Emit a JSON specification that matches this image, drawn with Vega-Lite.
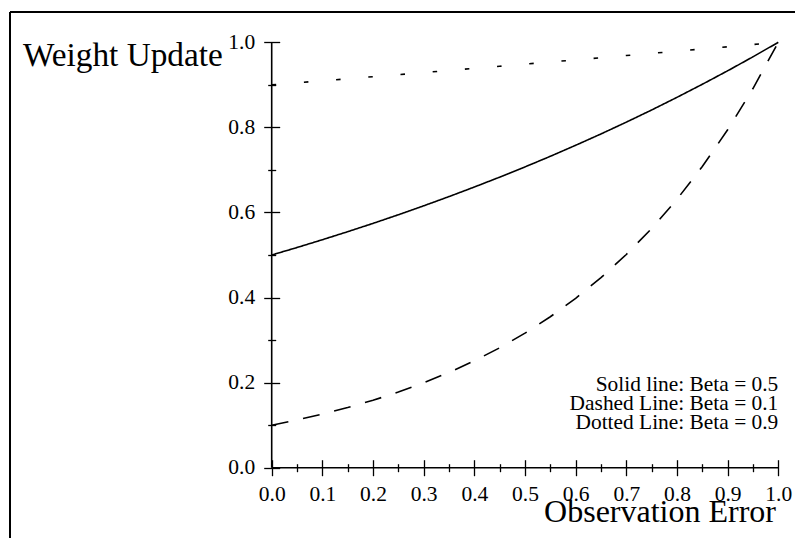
{
  "$schema": "https://vega.github.io/schema/vega-lite/v6.json",
  "width": 785,
  "height": 526,
  "autosize": {"type": "none"},
  "padding": {"left": 10, "top": 12, "right": 0, "bottom": 0},
  "background": "white",
  "config": {
    "view": {"stroke": null},
    "axis": {"grid": false, "domain": false, "tickColor": "black", "labelColor": "black", "titleColor": "black", "labelFont": "Liberation Serif", "titleFont": "Liberation Serif", "titleFontWeight": "normal"}
  },
  "resolve": {"axis": {"x": "independent", "y": "independent"}},
  "layer": [
    {
      "data": {"values": [
        {"e": 0, "w": 0.5, "s": "Solid"}, {"e": 0.05, "w": 0.5176, "s": "Solid"}, {"e": 0.1, "w": 0.5359, "s": "Solid"}, {"e": 0.15, "w": 0.5548, "s": "Solid"}, {"e": 0.2, "w": 0.5743, "s": "Solid"}, {"e": 0.25, "w": 0.5946, "s": "Solid"}, {"e": 0.3, "w": 0.6156, "s": "Solid"}, {"e": 0.35, "w": 0.6373, "s": "Solid"}, {"e": 0.4, "w": 0.6598, "s": "Solid"}, {"e": 0.45, "w": 0.683, "s": "Solid"}, {"e": 0.5, "w": 0.7071, "s": "Solid"}, {"e": 0.55, "w": 0.732, "s": "Solid"}, {"e": 0.6, "w": 0.7579, "s": "Solid"}, {"e": 0.65, "w": 0.7846, "s": "Solid"}, {"e": 0.7, "w": 0.8123, "s": "Solid"}, {"e": 0.75, "w": 0.8409, "s": "Solid"}, {"e": 0.8, "w": 0.8706, "s": "Solid"}, {"e": 0.85, "w": 0.9013, "s": "Solid"}, {"e": 0.9, "w": 0.933, "s": "Solid"}, {"e": 0.95, "w": 0.9659, "s": "Solid"}, {"e": 1, "w": 1, "s": "Solid"},
        {"e": 0, "w": 0.1, "s": "Dashed"}, {"e": 0.05, "w": 0.1122, "s": "Dashed"}, {"e": 0.1, "w": 0.1259, "s": "Dashed"}, {"e": 0.15, "w": 0.1413, "s": "Dashed"}, {"e": 0.2, "w": 0.1585, "s": "Dashed"}, {"e": 0.25, "w": 0.1778, "s": "Dashed"}, {"e": 0.3, "w": 0.1995, "s": "Dashed"}, {"e": 0.35, "w": 0.2239, "s": "Dashed"}, {"e": 0.4, "w": 0.2512, "s": "Dashed"}, {"e": 0.45, "w": 0.2818, "s": "Dashed"}, {"e": 0.5, "w": 0.3162, "s": "Dashed"}, {"e": 0.55, "w": 0.3548, "s": "Dashed"}, {"e": 0.6, "w": 0.3981, "s": "Dashed"}, {"e": 0.65, "w": 0.4467, "s": "Dashed"}, {"e": 0.7, "w": 0.5012, "s": "Dashed"}, {"e": 0.75, "w": 0.5623, "s": "Dashed"}, {"e": 0.8, "w": 0.631, "s": "Dashed"}, {"e": 0.85, "w": 0.7079, "s": "Dashed"}, {"e": 0.9, "w": 0.7943, "s": "Dashed"}, {"e": 0.95, "w": 0.8913, "s": "Dashed"}, {"e": 1, "w": 1, "s": "Dashed"},
        {"e": 0, "w": 0.9, "s": "Dotted"}, {"e": 0.05, "w": 0.9048, "s": "Dotted"}, {"e": 0.1, "w": 0.9095, "s": "Dotted"}, {"e": 0.15, "w": 0.9143, "s": "Dotted"}, {"e": 0.2, "w": 0.9192, "s": "Dotted"}, {"e": 0.25, "w": 0.924, "s": "Dotted"}, {"e": 0.3, "w": 0.9289, "s": "Dotted"}, {"e": 0.35, "w": 0.9338, "s": "Dotted"}, {"e": 0.4, "w": 0.9387, "s": "Dotted"}, {"e": 0.45, "w": 0.9437, "s": "Dotted"}, {"e": 0.5, "w": 0.9487, "s": "Dotted"}, {"e": 0.55, "w": 0.9537, "s": "Dotted"}, {"e": 0.6, "w": 0.9587, "s": "Dotted"}, {"e": 0.65, "w": 0.9638, "s": "Dotted"}, {"e": 0.7, "w": 0.9689, "s": "Dotted"}, {"e": 0.75, "w": 0.974, "s": "Dotted"}, {"e": 0.8, "w": 0.9791, "s": "Dotted"}, {"e": 0.85, "w": 0.9843, "s": "Dotted"}, {"e": 0.9, "w": 0.9895, "s": "Dotted"}, {"e": 0.95, "w": 0.9947, "s": "Dotted"}, {"e": 1, "w": 1, "s": "Dotted"}
      ]},
      "mark": {"type": "line", "color": "black", "strokeCap": "butt", "clip": false},
      "encoding": {
        "x": {"field": "e", "type": "quantitative",
          "scale": {"domain": [-0.51658, 1.03297], "nice": false, "zero": false},
          "axis": {"orient": "bottom", "offset": -78.3, "values": [0, 0.1, 0.2, 0.3, 0.4, 0.5, 0.6, 0.7, 0.8, 0.9, 1.0], "format": ".1f", "tickSize": 16, "tickWidth": 1.3, "labelFontSize": 21.5, "labelPadding": 7.5, "labelFlush": false, "labelOverlap": false,
            "title": "Observation Error", "titleFontSize": 32, "titleX": 765.5, "titleY": 61.5, "titleAlign": "right", "titleBaseline": "alphabetic", "titleAnchor": null}},
        "y": {"field": "w", "type": "quantitative",
          "scale": {"domain": [-0.16526, 1.07123], "nice": false, "zero": false},
          "axis": {"orient": "left", "offset": -269.7, "values": [0, 0.2, 0.4, 0.6, 0.8, 1.0], "format": ".1f", "tickSize": 16, "tickWidth": 1.3, "labelFontSize": 21.5, "labelPadding": 9, "labelFlush": false, "labelOverlap": false, "labelBaseline": "middle",
            "title": "Weight Update", "titleFontSize": 33.3, "titleAngle": 0, "titleX": -257.2, "titleY": 53.3, "titleAlign": "left", "titleBaseline": "alphabetic", "titleAnchor": null}},
        "strokeDash": {"field": "s", "type": "nominal", "scale": {"domain": ["Solid", "Dashed", "Dotted"], "range": [[1, 0], [17, 15], [4.5, 27.8]]}, "legend": null},
        "strokeWidth": {"field": "s", "type": "nominal", "scale": {"domain": ["Solid", "Dashed", "Dotted"], "range": [1.6, 1.6, 3]}, "legend": null}
      }
    },
    {
      "data": {"values": [
        {"x": 0, "y": 0, "x2": 1, "y2": 0},
        {"x": 0, "y": 0, "x2": 0, "y2": 1}
      ]},
      "mark": {"type": "rule", "color": "black", "strokeWidth": 1.6},
      "encoding": {
        "x": {"field": "x", "type": "quantitative",
          "scale": {"domain": [-0.51658, 1.03297], "nice": false, "zero": false},
          "axis": {"orient": "bottom", "offset": -74.3, "values": [0.05, 0.15, 0.25, 0.35, 0.45, 0.55, 0.65, 0.75, 0.85, 0.95], "tickSize": 8, "tickWidth": 1.3, "labels": false, "title": null}},
        "x2": {"field": "x2"},
        "y": {"field": "y", "type": "quantitative",
          "scale": {"domain": [-0.16526, 1.07123], "nice": false, "zero": false},
          "axis": {"orient": "left", "offset": -265.7, "values": [0.1, 0.3, 0.5, 0.7, 0.9], "tickSize": 8, "tickWidth": 1.3, "labels": false, "title": null}},
        "y2": {"field": "y2"}
      }
    },
    {
      "data": {"values": [{"note": "legend"}]},
      "mark": {"type": "text", "align": "right", "baseline": "alphabetic", "font": "Liberation Serif", "fontSize": 21.4, "lineHeight": 19.3, "color": "black"},
      "encoding": {
        "x": {"datum": 1, "type": "quantitative",
          "scale": {"domain": [-0.51658, 1.03297], "nice": false, "zero": false},
          "axis": {"orient": "top", "offset": 0, "translate": 0, "domain": true, "domainColor": "black", "domainWidth": 2, "ticks": false, "labels": false, "title": null}},
        "y": {"datum": 0.181, "type": "quantitative",
          "scale": {"domain": [-0.16526, 1.07123], "nice": false, "zero": false},
          "axis": {"orient": "left", "offset": 0, "translate": 0, "domain": true, "domainColor": "black", "domainWidth": 2, "ticks": false, "labels": false, "title": null}},
        "text": {"value": ["Solid line: Beta = 0.5", "Dashed Line: Beta = 0.1", "Dotted Line: Beta = 0.9"]}
      }
    }
  ]
}
